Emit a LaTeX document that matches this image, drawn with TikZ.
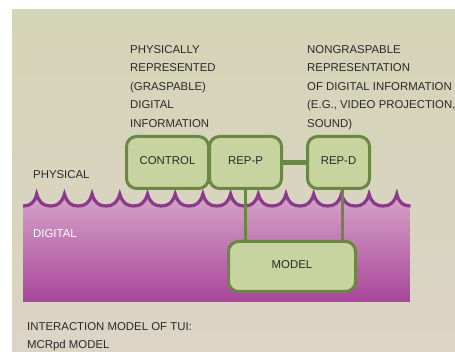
\documentclass[tikz,border=0pt]{standalone}
\usepackage{fontspec}
\setmainfont{Liberation Sans}
\definecolor{bgtop}{HTML}{D4D4B6}
\definecolor{bgbot}{HTML}{DCD4C6}
\definecolor{purtop}{HTML}{D6A4C8}
\definecolor{purmid}{HTML}{CE96C0}
\definecolor{purbot}{HTML}{A8469A}
\definecolor{waveline}{HTML}{8A3A8A}
\definecolor{boxfill}{HTML}{C8D4A0}
\definecolor{boxline}{HTML}{6A8842}
\definecolor{txt}{HTML}{2A2A2A}
\begin{document}
\begin{tikzpicture}[x=1pt,y=-1pt,
  lbl/.style={font=\fontsize{11.4}{18.6}\selectfont, text=txt, inner sep=0pt},
  comp/.style={draw=boxline, fill=boxfill, line width=3pt, rounded corners=10pt, inner sep=0pt, text depth=4pt, font=\fontsize{11.4}{13}\selectfont, text=txt},
  link/.style={draw=boxline, line width=3pt}]
\useasboundingbox (0,0) rectangle (455,352);
\fill[white] (0,0) rectangle (455,352);
\shade[top color=bgtop,bottom color=bgbot] (12,10) rectangle (455,352);
% digital region
\shade[top color=purtop, middle color=purmid, bottom color=purbot]
  (23,302) -- (23,206) .. controls (30,206) and (34.7,203) .. (36.7,194)
  \foreach \k [evaluate=\k as \x using 36.7+27.7*\k] in {0,...,12} {
    .. controls (\x+2.5,203) and (\x+7,206) .. (\x+13.85,206)
    .. controls (\x+20.7,206) and (\x+25.2,203) .. (\x+27.7,194) }
  .. controls (398.8,203) and (403.5,206) .. (410.5,206) -- (410.5,302) -- cycle;
\draw[waveline, line width=3.2pt]
  (23,206) .. controls (30,206) and (34.7,203) .. (36.7,194)
  \foreach \k [evaluate=\k as \x using 36.7+27.7*\k] in {0,...,12} {
    .. controls (\x+2.5,203) and (\x+7,206) .. (\x+13.85,206)
    .. controls (\x+20.7,206) and (\x+25.2,203) .. (\x+27.7,194) }
  .. controls (398.8,203) and (403.5,206) .. (410.5,206);
% components
\node[comp, minimum width=82pt, minimum height=52pt] (control) at (167.5,162.5) {CONTROL};
\node[comp, minimum width=72pt, minimum height=52pt] (repp) at (245.5,162.5) {REP-P};
\node[comp, minimum width=62pt, minimum height=52pt] (repd) at (338.5,162.5) {REP-D};
\node[comp, minimum width=127pt, minimum height=50pt] (model) at (292,266.5) {MODEL};
\draw[boxline, line width=5pt] (repp.east) -- (repd.west);
\draw[link] (repp.south) -- (repp.south |- model.north);
\coordinate (dtop) at ([xshift=3.5pt]repd.south);
\draw[link] (dtop) -- (dtop |- model.north);
% labels
\node[lbl, anchor=north west, align=left] (physrep) at (130,45)
  {PHYSICALLY\\REPRESENTED\\(GRASPABLE)\\DIGITAL\\INFORMATION};
\node[lbl, anchor=north west, align=left] (nongrasp) at (307,45)
  {NONGRASPABLE\\REPRESENTATION\\OF DIGITAL INFORMATION\\(E.G., VIDEO PROJECTION,\\SOUND)};
\node[lbl, anchor=west] (phys) at (33,175) {PHYSICAL};
\node[lbl, anchor=west, text=white] (dig) at (33,234) {DIGITAL};
\node[lbl, anchor=north west, align=left, font=\fontsize{11.4}{18}\selectfont] (cap) at (27,322.5)
  {INTERACTION MODEL OF TUI:\\MCRpd MODEL};
\end{tikzpicture}
\end{document}
